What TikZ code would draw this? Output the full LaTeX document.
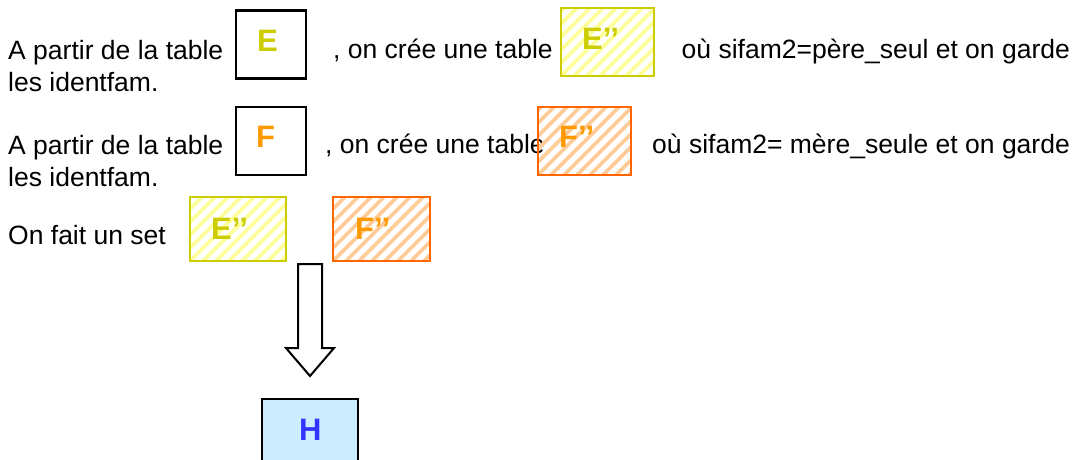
\documentclass[tikz,border=0pt]{standalone}
\usepackage{fontspec}
\setmainfont{Liberation Sans}
\usetikzlibrary{calc}
\definecolor{ybord}{HTML}{CCCC00}
\definecolor{ystripe}{HTML}{FFFF99}
\definecolor{obord}{HTML}{FF6600}
\definecolor{ostripe}{HTML}{FFCC99}
\definecolor{ftxt}{HTML}{FF9900}
\definecolor{hfill}{HTML}{CCECFF}
\definecolor{htxt}{HTML}{3333FF}
\begin{document}
\begin{tikzpicture}[x=1pt,y=-1pt,
  body/.style={font=\fontsize{26.5}{32}\selectfont, inner sep=0pt, anchor=base west},
  letter/.style={font=\fontsize{31}{36}\selectfont\bfseries, inner sep=0pt, anchor=base west},
  plainbox/.style={draw=black, line width=2.4pt, rectangle, inner sep=0pt, minimum width=70pt, minimum height=68pt},
  hatched/.style 2 args={draw=#1, line width=2.6pt, rectangle, inner sep=0pt,
     minimum width=93pt, minimum height=68pt,
     path picture={\foreach \i in {-12,...,10}
        \draw[#2, line width=3.6pt] ($(path picture bounding box.south west)+(\i*13,0)$) -- ++(120,-120);}},
  ybox/.style={hatched={ybord}{ystripe}},
  obox/.style={hatched={obord}{ostripe}},
  hbox/.style={draw=black, fill=hfill, line width=2.4pt, rectangle, inner sep=0pt, minimum width=96pt, minimum height=66pt},
  blockarrow/.style={draw=black, fill=white, line width=2pt, line join=miter}
]
\useasboundingbox (0,0) rectangle (1086,459);

% paragraph 1
\node[body] (t1a) at (8,59) {A partir de la table};
\node[body] (t1b) at (8,91.7) {les identfam.};
\node[plainbox] (E) at (271,44.5) {};
\node[letter, text=ybord] (Etxt) at (257,51.7) {E};
\node[body] (t1c) at (333,58.5) {, on crée une table};
\node[ybox] (E2) at (607.5,42) {};
\node[letter, text=ybord] (E2txt) at (582,49) {E’’};
\node[body] (t1d) at (681.5,58.5) {où sifam2=père\_seul et on garde};

% paragraph 2
\node[body] (t2a) at (8,154.3) {A partir de la table};
\node[body] (t2b) at (8,186.7) {les identfam.};
\node[plainbox] (F) at (271,141) {};
\node[letter, text=ftxt] (Ftxt) at (256,147.7) {F};
\node[body] (t2c) at (325,153.3) {, on crée une table};
\node[obox] (F2) at (584.5,141) {};
\node[letter, text=ftxt] (F2txt) at (559,147.7) {F’’};
\node[body] (t2d) at (652,153.3) {où sifam2= mère\_seule et on garde};

% set
\node[body] (t3) at (8,244) {On fait un set};
\node[ybox, minimum width=96pt, minimum height=64pt] (E3) at (238,229) {};
\node[letter, text=ybord] (E3txt) at (211,239.3) {E’’};
\node[obox, minimum width=97pt, minimum height=64pt] (F3) at (381.5,229) {};
\node[letter, text=ftxt] (F3txt) at (355,239.3) {F’’};

% arrow and H
\draw[blockarrow] (298,264) -- (322,264) -- (322,348) -- (334,348) -- (310,376)
   -- (286,348) -- (298,348) -- cycle;
\node[hbox] (H) at (310,432) {};
\node[letter, text=htxt] (Htxt) at (299,440) {H};
\end{tikzpicture}
\end{document}
